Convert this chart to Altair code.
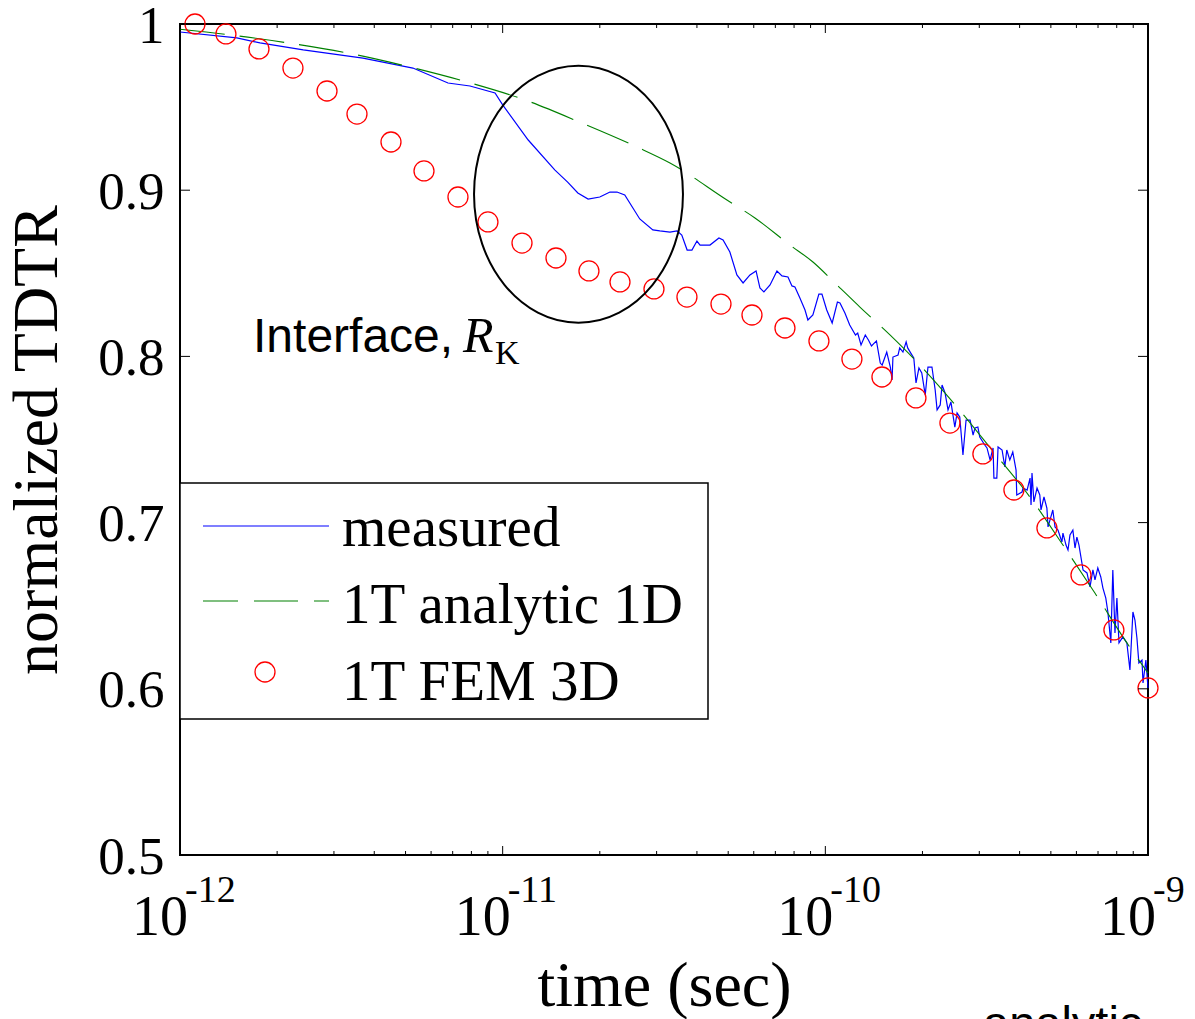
import altair as alt
import pandas as pd

SERIES = ["measured", "1T analytic 1D", "1T FEM 3D"]
COLORS = ["#0000FF", "#008000", "#FF0000"]

MEAS_TIME = [
    1.00e-12, 1.50e-12, 1.77e-12, 2.41e-12, 3.69e-12, 5.27e-12, 6.77e-12, 7.92e-12, 9.47e-12, 1.00e-11,
    1.20e-11, 1.45e-11, 1.59e-11, 1.71e-11, 1.84e-11, 2.00e-11, 2.15e-11, 2.26e-11, 2.39e-11, 2.66e-11,
    2.92e-11, 3.07e-11, 3.30e-11, 3.47e-11, 3.59e-11, 3.73e-11, 3.86e-11, 4.00e-11, 4.09e-11, 4.39e-11,
    4.68e-11, 4.82e-11, 5.06e-11, 5.32e-11, 5.56e-11, 5.84e-11, 6.10e-11, 6.27e-11, 6.45e-11, 6.74e-11,
    7.08e-11, 7.34e-11, 7.66e-11, 7.88e-11, 8.05e-11, 8.34e-11, 8.65e-11, 8.83e-11, 9.15e-11, 9.55e-11,
    9.76e-11, 1.01e-10, 1.05e-10, 1.09e-10, 1.11e-10, 1.15e-10, 1.19e-10, 1.24e-10, 1.26e-10, 1.29e-10,
    1.33e-10, 1.36e-10, 1.39e-10, 1.44e-10, 1.48e-10, 1.50e-10, 1.55e-10, 1.59e-10, 1.61e-10, 1.62e-10,
    1.68e-10, 1.70e-10, 1.74e-10, 1.78e-10, 1.80e-10, 1.84e-10, 1.88e-10, 1.91e-10, 1.95e-10, 1.99e-10,
    2.04e-10, 2.08e-10, 2.14e-10, 2.19e-10, 2.22e-10, 2.27e-10, 2.30e-10, 2.35e-10, 2.40e-10, 2.45e-10,
    2.52e-10, 2.56e-10, 2.61e-10, 2.67e-10, 2.73e-10, 2.81e-10, 2.87e-10, 2.91e-10, 2.97e-10, 3.01e-10,
    3.12e-10, 3.17e-10, 3.24e-10, 3.31e-10, 3.33e-10, 3.40e-10, 3.43e-10, 3.53e-10, 3.60e-10, 3.65e-10,
    3.73e-10, 3.81e-10, 3.90e-10, 3.92e-10, 4.07e-10, 4.10e-10, 4.22e-10, 4.31e-10, 4.34e-10, 4.37e-10,
    4.43e-10, 4.53e-10, 4.62e-10, 4.66e-10, 4.76e-10, 4.86e-10, 4.90e-10, 5.00e-10, 5.07e-10, 5.15e-10,
    5.26e-10, 5.41e-10, 5.45e-10, 5.57e-10, 5.65e-10, 5.73e-10, 5.85e-10, 5.94e-10, 6.02e-10, 6.11e-10,
    6.24e-10, 6.29e-10, 6.47e-10, 6.61e-10, 6.75e-10, 6.85e-10, 6.99e-10, 7.14e-10, 7.25e-10, 7.40e-10,
    7.51e-10, 7.67e-10, 7.78e-10, 7.90e-10, 8.01e-10, 8.13e-10, 8.36e-10, 8.60e-10, 8.79e-10, 8.98e-10,
    9.11e-10, 9.24e-10, 9.37e-10, 9.58e-10, 9.65e-10, 9.85e-10, 1.00e-9,
]
MEAS_VAL = [
    0.9952, 0.9916, 0.9886, 0.9844, 0.9795, 0.9735, 0.9645, 0.9627, 0.9585, 0.9513,
    0.9302, 0.9122, 0.9049, 0.8983, 0.8947, 0.8959, 0.8989, 0.8989, 0.8971, 0.8827,
    0.8761, 0.8755, 0.8748, 0.8755, 0.8730, 0.8640, 0.8640, 0.8694, 0.8670, 0.8670,
    0.8712, 0.8700, 0.8628, 0.8490, 0.8442, 0.8490, 0.8514, 0.8412, 0.8388, 0.8430,
    0.8514, 0.8484, 0.8478, 0.8424, 0.8418, 0.8351, 0.8279, 0.8219, 0.8249, 0.8375,
    0.8375, 0.8279, 0.8201, 0.8327, 0.8321, 0.8261, 0.8189, 0.8129, 0.8141, 0.8069,
    0.8129, 0.8099, 0.8063, 0.8093, 0.7960, 0.7948, 0.8026, 0.7936, 0.7858, 0.7996,
    0.8008, 0.8051, 0.8026, 0.8087, 0.8051, 0.8020, 0.7990, 0.7840, 0.7930, 0.7900,
    0.7768, 0.7936, 0.7936, 0.7798, 0.7678, 0.7708, 0.7828, 0.7780, 0.7678, 0.7726,
    0.7575, 0.7660, 0.7635, 0.7407, 0.7617, 0.7617, 0.7527, 0.7569, 0.7575, 0.7515,
    0.7467, 0.7449, 0.7377, 0.7449, 0.7268, 0.7268, 0.7455, 0.7437, 0.7335, 0.7437,
    0.7377, 0.7425, 0.7316, 0.7166, 0.7184, 0.7208, 0.7196, 0.7268, 0.7106, 0.7298,
    0.7124, 0.7208, 0.7166, 0.7076, 0.7154, 0.7088, 0.6974, 0.7034, 0.7076, 0.6974,
    0.6955, 0.6883, 0.6937, 0.6865, 0.6835, 0.6925, 0.6955, 0.6847, 0.6913, 0.6865,
    0.6757, 0.6715, 0.6697, 0.6613, 0.6715, 0.6655, 0.6727, 0.6673, 0.6606, 0.6546,
    0.6462, 0.6276, 0.6715, 0.6336, 0.6546, 0.6276, 0.6312, 0.6276, 0.6113, 0.6462,
    0.6414, 0.6306, 0.6155, 0.6173, 0.6035, 0.6173, 0.6005,
]

AN_TIME = [1.00e-12, 1.379e-12, 2.146e-12, 3.293e-12, 5.161e-12, 7.752e-12, 1.173e-11, 1.761e-11,
           2.608e-11, 3.300e-11, 4.955e-11, 6.052e-11, 7.769e-11, 9.154e-11, 1.071e-10, 1.280e-10,
           1.586e-10, 1.936e-10, 2.557e-10, 3.283e-10, 4.305e-10, 5.450e-10, 6.846e-10, 8.603e-10, 1.0e-9]
AN_VAL = [0.9968, 0.9938, 0.9887, 0.9826, 0.9741, 0.9651, 0.9543, 0.9404,
          0.9260, 0.9164, 0.8941, 0.8833, 0.8670, 0.8568, 0.8442, 0.8297,
          0.8129, 0.7960, 0.7696, 0.7437, 0.7154, 0.6865, 0.6576, 0.6276, 0.6095]

FEM_TIME = [1.113e-12, 1.388e-12, 1.757e-12, 2.239e-12, 2.855e-12, 3.536e-12, 4.507e-12, 5.704e-12,
            7.269e-12, 9.003e-12, 1.148e-11, 1.463e-11, 1.851e-11, 2.310e-11, 2.944e-11, 3.725e-11,
            4.749e-11, 5.925e-11, 7.497e-11, 9.554e-11, 1.209e-10, 1.498e-10, 1.909e-10, 2.433e-10,
            3.078e-10, 3.841e-10, 4.861e-10, 6.198e-10, 7.840e-10, 1.0e-9]
FEM_VAL = [1.000, 0.9940, 0.9850, 0.9735, 0.9597, 0.9458, 0.9290, 0.9116,
           0.8959, 0.8809, 0.8682, 0.8592, 0.8514, 0.8448, 0.8406, 0.8357,
           0.8315, 0.8249, 0.8171, 0.8093, 0.7984, 0.7876, 0.7750, 0.7599,
           0.7413, 0.7196, 0.6968, 0.6685, 0.6354, 0.6005]

X_MAJOR = [1e-12, 1e-11, 1e-10, 1e-9]
X_EXP = ["-12", "-11", "-10", "-9"]
X_MINOR = [2e-12, 3e-12, 4e-12, 5e-12, 6e-12, 7e-12, 8e-12, 9e-12,
           2e-11, 3e-11, 4e-11, 5e-11, 6e-11, 7e-11, 8e-11, 9e-11,
           2e-10, 3e-10, 4e-10, 5e-10, 6e-10, 7e-10, 8e-10, 9e-10]
Y_TICKS = [0.5, 0.6, 0.7, 0.8, 0.9, 1.0]

# annotation: ellipse around interface region (centre in data units)
ELL_T, ELL_V = [1.718e-11], [0.8976]
ANN_T = [1.684e-12, 7.534e-12, 9.465e-12]
ANN_V = [0.8027, 0.8027, 0.7954]
ANN_TXT = ["Interface,", "R", "K"]

W, H = 968, 831
SERIF = "Liberation Serif"
SANS = "Liberation Sans"

xs = alt.Scale(type="log", domain=[1e-12, 1e-9])
ys = alt.Scale(domain=[0.5, 1.0])

x_axis = alt.Axis(title="time (sec)", labels=False, ticks=False, domain=False, grid=False,
                  titleFont=SERIF, titleFontSize=64, titleFontWeight="normal", titleColor="black",
                  titleBaseline="alphabetic", titlePadding=150)
y_axis = alt.Axis(title="normalized TDTR", values=Y_TICKS, format=".1~f", ticks=False, domain=False,
                  grid=False, labelFont=SERIF, labelFontSize=53, labelColor="black", labelPadding=16,
                  labelFlush=False, labelOverlap=False, labelBound=False,
                  labelBaseline="alphabetic", labelOffset=18,
                  titleFont=SERIF, titleFontSize=64, titleFontWeight="normal", titleColor="black",
                  titlePadding=28)

X = alt.X("t:Q", scale=xs, axis=x_axis)
Y = alt.Y("v:Q", scale=ys, axis=y_axis)

meas = pd.DataFrame({"t": MEAS_TIME, "v": MEAS_VAL})
an = pd.DataFrame({"t": AN_TIME, "v": AN_VAL})
fem = pd.DataFrame({"t": FEM_TIME, "v": FEM_VAL})

l_meas = alt.Chart(meas).mark_line(color=COLORS[0], strokeWidth=1.2).encode(x=X, y=Y)
l_an = alt.Chart(an).mark_line(color=COLORS[1], strokeWidth=1.1, strokeDash=[45, 15],
                               interpolate="monotone", strokeCap="butt").encode(x=X, y=Y)
p_fem = alt.Chart(fem).mark_point(shape="circle", size=400, filled=False, color=COLORS[2],
                                  strokeWidth=1.3, opacity=1).encode(x=X, y=Y)

ELLIPSE_PATH = ("M 0 -1 C 0.449 -1 0.813 -0.552 0.813 0 C 0.813 0.552 0.449 1 0 1 "
                "C -0.449 1 -0.813 0.552 -0.813 0 C -0.813 -0.552 -0.449 -1 0 -1 Z")
ell = alt.Chart(pd.DataFrame({"t": ELL_T, "v": ELL_V})).mark_point(
    shape=ELLIPSE_PATH, size=66049, filled=False, color="black", strokeWidth=2, opacity=1
).encode(x=X, y=Y)

ann = pd.DataFrame({"t": ANN_T, "v": ANN_V, "txt": ANN_TXT})
a1 = alt.Chart(ann.iloc[[0]]).mark_text(font=SANS, fontSize=48, align="left", baseline="alphabetic",
                                         color="black").encode(x=X, y=Y, text="txt:N")
a2 = alt.Chart(ann.iloc[[1]]).mark_text(font=SERIF, fontSize=50, fontStyle="italic", align="left",
                                         baseline="alphabetic", color="black").encode(x=X, y=Y, text="txt:N")
a3 = alt.Chart(ann.iloc[[2]]).mark_text(font=SERIF, fontSize=34, align="left", baseline="alphabetic",
                                         color="black").encode(x=X, y=Y, text="txt:N")

# ticks (inside, matlab style)
xmaj = pd.DataFrame({"t": X_MAJOR, "e": X_EXP})
xmin = pd.DataFrame({"t": X_MINOR})
yt = pd.DataFrame({"v": Y_TICKS})
tick_style = dict(color="black", strokeWidth=1)
tx_b = alt.Chart(xmaj).mark_rule(**tick_style).encode(x=X, y=alt.value(H), y2=alt.value(H - 9))
tx_t = alt.Chart(xmaj).mark_rule(**tick_style).encode(x=X, y=alt.value(0), y2=alt.value(9))
tm_b = alt.Chart(xmin).mark_rule(**tick_style).encode(x=X, y=alt.value(H), y2=alt.value(H - 4))
tm_t = alt.Chart(xmin).mark_rule(**tick_style).encode(x=X, y=alt.value(0), y2=alt.value(4))
ty_l = alt.Chart(yt).mark_rule(**tick_style).encode(y=Y, x=alt.value(0), x2=alt.value(10))
ty_r = alt.Chart(yt).mark_rule(**tick_style).encode(y=Y, x=alt.value(W - 10), x2=alt.value(W))

# x tick labels 10^n
lab_base = alt.Chart(xmaj).mark_text(font=SERIF, fontSize=56, align="right", baseline="alphabetic",
                                     dx=8, color="black").encode(x=X, y=alt.value(911), text=alt.value("10"))
lab_exp = alt.Chart(xmaj).mark_text(font=SERIF, fontSize=38, align="left", baseline="alphabetic",
                                    dx=5, color="black").encode(x=X, y=alt.value(878), text="e:N")

# legend (drawn manually, matlab style)
one = pd.DataFrame({"k": [0]})
leg_box = alt.Chart(one).mark_rect(fill="white", stroke="black", strokeWidth=1.5).encode(
    x=alt.value(0), x2=alt.value(528), y=alt.value(459), y2=alt.value(695))
leg_l1 = alt.Chart(one).mark_rule(color=COLORS[0], strokeWidth=1.1).encode(
    x=alt.value(23), x2=alt.value(149), y=alt.value(502))
leg_l2 = alt.Chart(one).mark_rule(color=COLORS[1], strokeWidth=1.1, strokeDash=[44, 16],
                                  strokeDashOffset=9, strokeCap="butt").encode(
    x=alt.value(23), x2=alt.value(149), y=alt.value(577))
leg_p3 = alt.Chart(one).mark_point(shape="circle", size=400, filled=False, color=COLORS[2],
                                   strokeWidth=1.3, opacity=1).encode(x=alt.value(85), y=alt.value(648))
leg_txt = []
for name, yy in zip(SERIES, [522, 599, 676]):
    leg_txt.append(alt.Chart(one).mark_text(font=SERIF, fontSize=57, align="left", baseline="alphabetic",
                                            color="black").encode(x=alt.value(162), y=alt.value(yy),
                                                                  text=alt.value(name)))

# cut-off text from the neighbouring panel at the bottom edge
cut = alt.Chart(one).mark_text(font=SANS, fontSize=47, align="left", baseline="alphabetic",
                               color="black").encode(x=alt.value(803), y=alt.value(1015),
                                                     text=alt.value("analytic"))

chart = alt.layer(
    l_meas, l_an, p_fem, ell, a1, a2, a3,
    tx_b, tx_t, tm_b, tm_t, ty_l, ty_r, lab_base, lab_exp,
    leg_box, leg_l1, leg_l2, leg_p3, *leg_txt, cut
).properties(
    width=W, height=H,
    autosize=alt.AutoSizeParams(type="none"),
    padding={"left": 180, "top": 24, "right": 47, "bottom": 164},
    background="white",
).configure_view(stroke="black", strokeWidth=2)

chart.save("out.html", embed_options={"renderer": "svg", "actions": False})
